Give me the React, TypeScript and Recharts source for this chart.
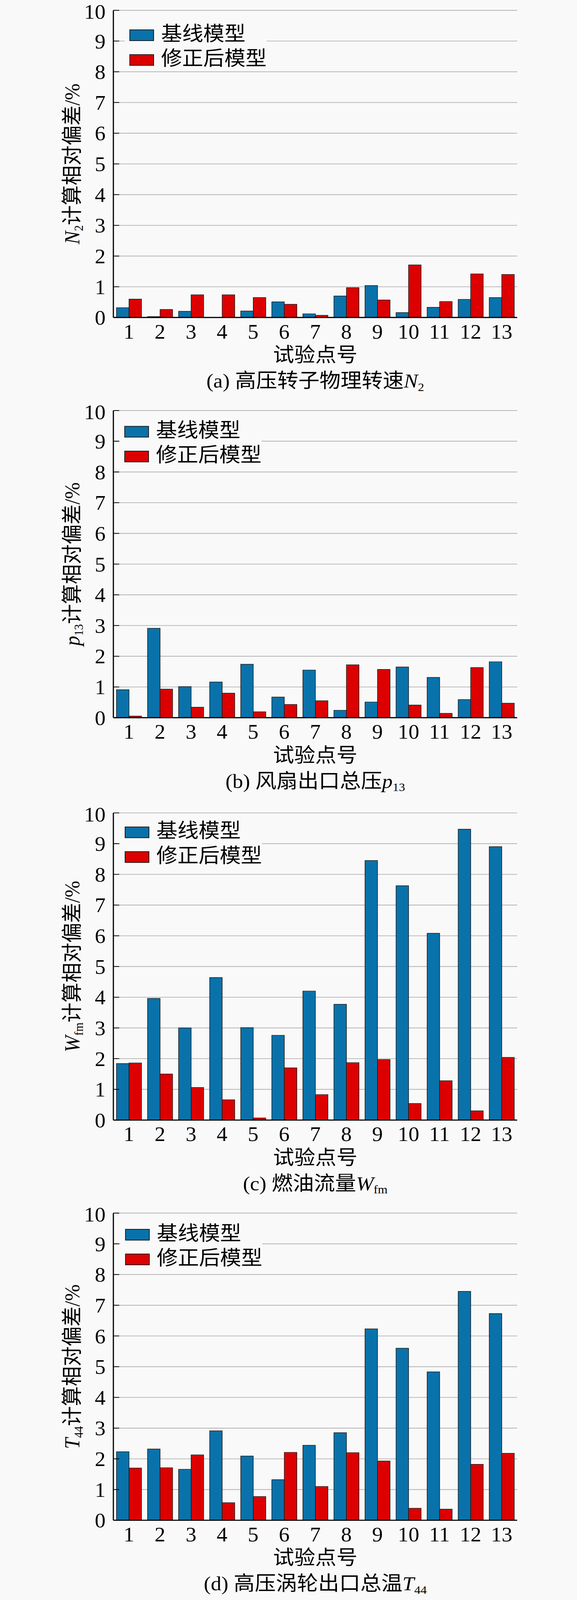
import React from 'react';
import { BarChart, Bar, XAxis, YAxis, CartesianGrid, Legend, Label } from 'recharts';

// test points 1..13
const points = ['1', '2', '3', '4', '5', '6', '7', '8', '9', '10', '11', '12', '13'];
const yTicks = [0, 1, 2, 3, 4, 5, 6, 7, 8, 9, 10];

// relative deviation (%)
const n2Base = [0.32, 0.03, 0.2, 0, 0.21, 0.51, 0.12, 0.7, 1.04, 0.16, 0.33, 0.59, 0.65];
const n2Fixed = [0.6, 0.26, 0.74, 0.74, 0.65, 0.43, 0.07, 0.97, 0.57, 1.71, 0.52, 1.42, 1.4];
const p13Base = [0.91, 2.91, 1.01, 1.16, 1.74, 0.67, 1.55, 0.24, 0.51, 1.65, 1.31, 0.59, 1.82];
const p13Fixed = [0.05, 0.93, 0.34, 0.8, 0.19, 0.43, 0.55, 1.72, 1.57, 0.41, 0.14, 1.63, 0.47];
const wfmBase = [1.84, 3.96, 3.0, 4.64, 3.01, 2.76, 4.2, 3.77, 8.45, 7.63, 6.08, 9.47, 8.9];
const wfmFixed = [1.86, 1.5, 1.06, 0.66, 0.07, 1.7, 0.83, 1.87, 1.97, 0.54, 1.28, 0.3, 2.04];
const t44Base = [2.23, 2.32, 1.66, 2.91, 2.09, 1.32, 2.44, 2.85, 6.23, 5.6, 4.83, 7.45, 6.73];
const t44Fixed = [1.7, 1.71, 2.13, 0.57, 0.77, 2.21, 1.1, 2.2, 1.93, 0.39, 0.36, 1.82, 2.18];

const seriesNames = ['基线模型', '修正后模型'];
const seriesColors = ['#0a72aa', '#dc0000'];

const BG = '#f9f9f9';
const SERIF = "'Liberation Serif', 'Times New Roman', 'Noto Sans CJK SC', serif";
const FS = 54;

// the photo only keeps 4096px of height, so the 4334px page is squeezed to fit
const FIT = 4096 / 4334;

const panels = [
  { tag: 'a', title: '高压转子物理转速', sym: 'N', sub: '2', base: n2Base, fixed: n2Fixed, top: 0, legend: { left: 319, top: 66 } },
  { tag: 'b', title: '风扇出口总压', sym: 'p', sub: '13', base: p13Base, fixed: p13Fixed, top: 1084, legend: { left: 306, top: 56 } },
  { tag: 'c', title: '燃油流量', sym: 'W', sub: 'fm', base: wfmBase, fixed: wfmFixed, top: 2174, legend: { left: 307, top: 51 } },
  { tag: 'd', title: '高压涡轮出口总温', sym: 'T', sub: '44', base: t44Base, fixed: t44Fixed, top: 3258, legend: { left: 308, top: 57 } },
];

const renderLegend = (props: any) => {
  const payload = [...(props.payload || [])].sort(
    (a: any, b: any) => seriesNames.indexOf(a.value) - seriesNames.indexOf(b.value)
  );
  return (
    <div style={{ background: BG, padding: '14px 0 12px 12px' }}>
      {payload.map((e: any, i: number) => (
        <div key={e.value} style={{ display: 'flex', alignItems: 'center', height: 31, marginTop: i ? 36 : 0 }}>
          <span
            style={{
              display: 'inline-block',
              width: 63,
              height: 31,
              boxSizing: 'border-box',
              background: seriesColors[seriesNames.indexOf(e.value)],
              border: '2px solid #1c1c1c',
            }}
          />
          <span
            style={{
              marginLeft: 18,
              fontSize: FS,
              lineHeight: '31px',
              fontFamily: SERIF,
              color: '#000',
              whiteSpace: 'nowrap',
              position: 'relative',
              top: -3,
            }}
          >
            {e.value}
          </span>
        </div>
      ))}
    </div>
  );
};

function Panel({ p }: { p: any }) {
  const data = points.map((pt, i) => ({ pt, base: p.base[i], fixed: p.fixed[i] }));

  const yLabel = (props: any) => {
    const vb = props.viewBox || { y: 28, height: 832 };
    const cy = vb.y + vb.height / 2;
    const x = 203;
    return (
      <text x={x} y={cy} transform={`rotate(-90, ${x}, ${cy})`} textAnchor="middle" fontSize={FS} fontFamily={SERIF} fill="#000">
        <tspan fontStyle="italic">{p.sym}</tspan>
        <tspan fontSize={32} dy={9}>{p.sub}</tspan>
        <tspan dy={-9}>计算相对偏差/%</tspan>
      </text>
    );
  };

  const xLabel = (props: any) => {
    const vb = props.viewBox || { x: 290, y: 860, width: 1033 };
    const cx = vb.x + vb.width / 2;
    return (
      <text x={cx} y={vb.y + 120} textAnchor="middle" fontSize={FS} fontFamily={SERIF} fill="#000">
        试验点号
      </text>
    );
  };

  const caption = (props: any) => {
    const vb = props.viewBox || { x: 290, y: 860, width: 1033 };
    const cx = vb.x + vb.width / 2;
    return (
      <text x={cx} y={vb.y + 190} textAnchor="middle" fontSize={FS} fontFamily={SERIF} fill="#000">
        <tspan>{`(${p.tag}) ${p.title}`}</tspan>
        <tspan fontStyle="italic">{p.sym}</tspan>
        <tspan fontSize={32} dy={9}>{p.sub}</tspan>
      </text>
    );
  };

  return (
    <div style={{ position: 'absolute', left: 0, top: p.top }}>
      <BarChart width={1476} height={1076} data={data} margin={{ top: 28, right: 153, bottom: 156, left: 230 }} barGap={0}>
        <CartesianGrid horizontal vertical={false} stroke="#b4b4b4" strokeWidth={2} />
        <Bar dataKey="base" name={seriesNames[0]} fill={seriesColors[0]} stroke="#1c1c1c" strokeWidth={1.5} barSize={32} isAnimationActive={false} />
        <Bar dataKey="fixed" name={seriesNames[1]} fill={seriesColors[1]} stroke="#1c1c1c" strokeWidth={1.5} barSize={32} isAnimationActive={false} />
        <XAxis
          dataKey="pt"
          interval={0}
          height={60}
          tickLine={false}
          tickMargin={12}
          axisLine={{ stroke: '#000', strokeWidth: 3 }}
          tick={{ fill: '#000', fontSize: 55, fontFamily: SERIF }}
        >
          <Label content={xLabel} />
          <Label content={caption} />
        </XAxis>
        <XAxis xAxisId="top" orientation="top" dataKey="pt" height={0} tick={false} tickLine={false} axisLine={{ stroke: '#000', strokeWidth: 3 }} />
        <YAxis
          type="number"
          domain={[0, 10]}
          ticks={yTicks}
          width={60}
          tickSize={-15}
          tickMargin={35}
          tickLine={{ stroke: '#000', strokeWidth: 2 }}
          axisLine={{ stroke: '#000', strokeWidth: 3 }}
          tick={{ fill: '#000', fontSize: 55, fontFamily: SERIF }}
        >
          <Label content={yLabel} />
        </YAxis>
        <YAxis yAxisId="right" orientation="right" type="number" domain={[0, 10]} width={0} tick={false} tickLine={false} axisLine={{ stroke: '#000', strokeWidth: 3 }} />
        <Legend
          layout="vertical"
          align="center"
          verticalAlign="middle"
          content={renderLegend}
          wrapperStyle={{ left: p.legend.left, top: p.legend.top, width: 'auto', height: 'auto' }}
        />
      </BarChart>
    </div>
  );
}

export default function App() {
  return (
    <div
      style={{
        position: 'absolute',
        left: 0,
        top: 0,
        width: 1476,
        height: 4334,
        background: BG,
        transform: `scaleY(${FIT})`,
        transformOrigin: 'top left',
      }}
    >
      {panels.map((p) => (
        <Panel key={p.tag} p={p} />
      ))}
    </div>
  );
}
